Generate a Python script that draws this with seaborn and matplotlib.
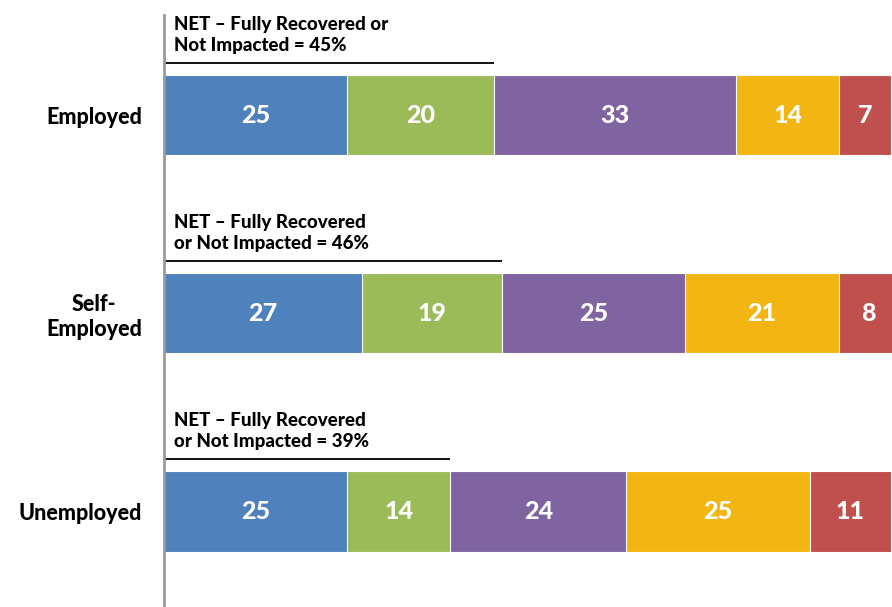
import numpy as np
import matplotlib
matplotlib.use("Agg")
import matplotlib.pyplot as plt
import seaborn as sns

# data
categories = ["Employed", "Self-\nEmployed", "Unemployed"]
seg_employed = [25, 20, 33, 14, 7]
seg_self = [27, 19, 25, 21, 8]
seg_unemployed = [25, 14, 24, 25, 11]
net_values = [45, 46, 39]
net_labels = [
    "NET \u2013 Fully Recovered or\nNot Impacted = 45%",
    "NET \u2013 Fully Recovered\nor Not Impacted = 46%",
    "NET \u2013 Fully Recovered\nor Not Impacted = 39%",
]
colors = ["#4F81BD", "#9BBB59", "#8064A2", "#F3B511", "#C0504D"]

sns.set_theme(style="white")
plt.rcParams["font.family"] = ["Lato", "DejaVu Sans"]

values = np.array([seg_employed, seg_self, seg_unemployed])
cum = values.cumsum(axis=1)

fig = plt.figure(figsize=(8.92, 6.07), dpi=100)
ax = fig.add_axes([164 / 892, 0.0, 728 / 892, 592 / 607])

# stacked bars: draw cumulative totals from the outermost segment inwards
for i in range(values.shape[1] - 1, -1, -1):
    sns.barplot(x=cum[:, i], y=categories, color=colors[i], orient="h",
                width=0.404, edgecolor="white", linewidth=0.8, saturation=1,
                ax=ax)

# segment labels
for r in range(values.shape[0]):
    left = 0
    for i, v in enumerate(values[r]):
        ax.text(left + v / 2, r, str(v), ha="center", va="center",
                color="white", fontsize=18, fontweight="black")
        left += v

# NET brackets above each bar
for r, (net, lab) in enumerate(zip(net_values, net_labels)):
    y_line = r - 0.263
    ax.plot([0, net], [y_line, y_line], color="black", lw=1.3,
            solid_capstyle="butt", clip_on=False)
    ax.text(1.3, y_line - 0.045, lab, ha="left", va="bottom",
            fontsize=13.5, fontweight="black", color="black", linespacing=1.3)

ax.set_xlim(0, 99.2)
ax.set_ylim(2.482, -0.505)
ax.set_xlabel("")
ax.set_ylabel("")
ax.set_xticks([])
ax.tick_params(axis="y", length=0, pad=16)
for lab in ax.get_yticklabels():
    lab.set_fontsize(15.5)
    lab.set_fontweight("black")
    lab.set_color("black")
    lab.set_multialignment("center")

for s in ["top", "right", "bottom"]:
    ax.spines[s].set_visible(False)
ax.spines["left"].set_color("#999999")
ax.spines["left"].set_linewidth(2)

fig.savefig("out.png", dpi=100)
